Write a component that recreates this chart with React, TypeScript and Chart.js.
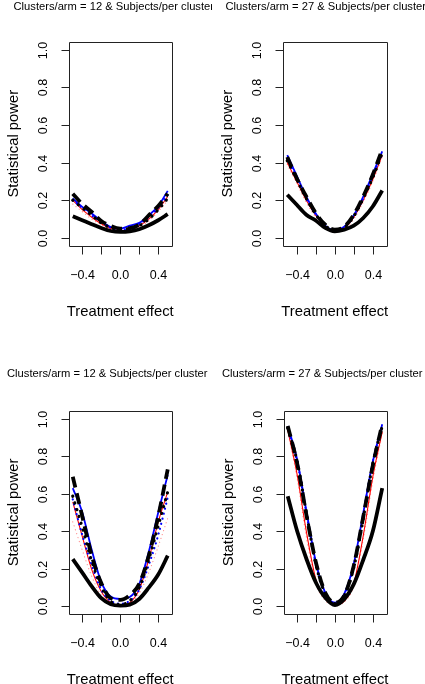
import React, { useEffect, useRef } from "react";
import { Chart, registerables } from "chart.js";

Chart.register(...registerables);

// ---------- data ----------
const effects = [-0.5, -0.4, -0.3, -0.2, -0.1, 0, 0.1, 0.2, 0.3, 0.4, 0.5];
const xTickValues = [-0.4, -0.2, 0, 0.2, 0.4];
const xTickLabels = ["\u22120.4", "", "0.0", "", "0.4"];
const yTickValues = [0, 0.2, 0.4, 0.6, 0.8, 1.0];
const yTickLabels = ["0.0", "0.2", "0.4", "0.6", "0.8", "1.0"];
const xTitle = "Treatment effect";
const yTitle = "Statistical power";
const titleTL = "Clusters/arm = 12 & Subjects/per cluster";
const titleTR = "Clusters/arm = 27 & Subjects/per cluster";
const titleBL = "Clusters/arm = 12 & Subjects/per cluster";
const titleBR = "Clusters/arm = 27 & Subjects/per cluster";

// top-left panel (12 clusters/arm)
const tlBlackSolid = [0.115, 0.094, 0.073, 0.053, 0.037, 0.032, 0.035, 0.046, 0.067, 0.094, 0.126];
const tlBlackDashed = [0.235, 0.18, 0.138, 0.09, 0.064, 0.05, 0.052, 0.07, 0.12, 0.17, 0.235];
const tlBlackDotted = [0.2, 0.16, 0.12, 0.08, 0.055, 0.045, 0.05, 0.065, 0.1, 0.15, 0.21];
const tlBlueSolid = [0.21, 0.165, 0.13, 0.09, 0.058, 0.05, 0.065, 0.08, 0.12, 0.17, 0.25];
const tlBlueDotted = [0.2, 0.16, 0.12, 0.085, 0.055, 0.045, 0.05, 0.075, 0.11, 0.16, 0.23];
const tlRedSolid = [0.2, 0.15, 0.11, 0.075, 0.05, 0.04, 0.045, 0.065, 0.1, 0.15, 0.22];
const tlPinkDotted = [0.18, 0.14, 0.1, 0.07, 0.045, 0.038, 0.042, 0.06, 0.09, 0.14, 0.2];

// top-right panel (27 clusters/arm)
const trBlackSolid = [0.229, 0.176, 0.123, 0.093, 0.053, 0.035, 0.044, 0.065, 0.106, 0.167, 0.252];
const trBlackDashed = [0.43, 0.317, 0.22, 0.132, 0.07, 0.044, 0.06, 0.123, 0.22, 0.335, 0.47];
const trBlackDotted = [0.41, 0.31, 0.21, 0.125, 0.065, 0.04, 0.055, 0.115, 0.21, 0.32, 0.45];
const trBlueSolid = [0.44, 0.33, 0.22, 0.13, 0.065, 0.04, 0.06, 0.12, 0.22, 0.34, 0.46];
const trBlueDotted = [0.42, 0.32, 0.21, 0.125, 0.06, 0.038, 0.055, 0.115, 0.21, 0.33, 0.45];
const trRedSolid = [0.4, 0.3, 0.2, 0.12, 0.06, 0.035, 0.05, 0.11, 0.2, 0.31, 0.44];
const trPinkDotted = [0.39, 0.29, 0.19, 0.11, 0.055, 0.032, 0.045, 0.1, 0.19, 0.3, 0.43];

// bottom-left panel (12 clusters/arm)
const blBlackSolid = [0.252, 0.18, 0.107, 0.044, 0.012, 0.005, 0.01, 0.04, 0.1, 0.17, 0.27];
const blBlackDashed = [0.69, 0.48, 0.27, 0.125, 0.045, 0.035, 0.06, 0.12, 0.27, 0.48, 0.73];
const blBlackDotted = [0.587, 0.42, 0.24, 0.107, 0.027, 0.01, 0.03, 0.1, 0.25, 0.43, 0.61];
const blBlueSolid = [0.63, 0.5, 0.3, 0.13, 0.053, 0.04, 0.05, 0.12, 0.29, 0.5, 0.7];
const blBlueDotted = [0.57, 0.38, 0.22, 0.09, 0.03, 0.015, 0.03, 0.09, 0.22, 0.38, 0.58];
const blRedSolid = [0.556, 0.373, 0.196, 0.08, 0.02, 0.005, 0.02, 0.09, 0.25, 0.45, 0.61];
const blPinkDotted = [0.45, 0.3, 0.16, 0.06, 0.015, 0.005, 0.015, 0.07, 0.18, 0.32, 0.47];

// bottom-right panel (27 clusters/arm)
const brBlackSolid = [0.587, 0.4, 0.25, 0.125, 0.045, 0.008, 0.04, 0.12, 0.25, 0.4, 0.63];
const brBlackDashed = [0.96, 0.76, 0.48, 0.23, 0.07, 0.02, 0.06, 0.22, 0.48, 0.75, 0.97];
const brBlackDotted = [0.95, 0.77, 0.49, 0.22, 0.065, 0.015, 0.06, 0.21, 0.47, 0.76, 0.96];
const brBlueSolid = [0.96, 0.78, 0.5, 0.23, 0.07, 0.02, 0.07, 0.23, 0.5, 0.77, 0.97];
const brBlueDotted = [0.95, 0.77, 0.49, 0.22, 0.06, 0.015, 0.06, 0.22, 0.49, 0.77, 0.96];
const brRedSolid = [0.94, 0.7, 0.39, 0.14, 0.04, 0.01, 0.03, 0.125, 0.38, 0.69, 0.93];
const brPinkDotted = [0.93, 0.68, 0.36, 0.12, 0.03, 0.008, 0.025, 0.11, 0.36, 0.67, 0.92];

// ---------- styles ----------
const seriesStyles = [
  { color: "#000000", width: 3.8, dash: [] as number[], cap: "butt" },
  { color: "#000000", width: 3.8, dash: [11, 6], cap: "butt" },
  { color: "#000000", width: 3.2, dash: [0.1, 7], cap: "round" },
  { color: "#0000ff", width: 1.8, dash: [] as number[], cap: "butt" },
  { color: "#0000ff", width: 2.2, dash: [0.1, 5], cap: "round" },
  { color: "#ff0000", width: 1.1, dash: [] as number[], cap: "butt" },
  { color: "#ff8c8c", width: 1.2, dash: [0.1, 4], cap: "round" },
];

const FONT = '"Liberation Sans", Arial, Helvetica, sans-serif';

type PanelSpec = {
  left: number;
  top: number;
  width: number;
  height: number;
  pad: { left: number; right: number; top: number; bottom: number };
  title: string;
  titleX: number;
  titleY: number;
  series: number[][];
};

const panels: PanelSpec[] = [
  {
    left: 0, top: 0, width: 212, height: 342,
    pad: { left: 68.5, right: 40, top: 42, bottom: 96.5 },
    title: titleTL, titleX: 13.5, titleY: 10,
    series: [tlBlackSolid, tlBlackDashed, tlBlackDotted, tlBlueSolid, tlBlueDotted, tlRedSolid, tlPinkDotted],
  },
  {
    left: 212, top: 0, width: 213, height: 342,
    pad: { left: 71, right: 38.5, top: 42, bottom: 96.5 },
    title: titleTR, titleX: 13.5, titleY: 10,
    series: [trBlackSolid, trBlackDashed, trBlackDotted, trBlueSolid, trBlueDotted, trRedSolid, trPinkDotted],
  },
  {
    left: 0, top: 342, width: 212, height: 342,
    pad: { left: 68.5, right: 40, top: 69, bottom: 70 },
    title: titleBL, titleX: 7, titleY: 35,
    series: [blBlackSolid, blBlackDashed, blBlackDotted, blBlueSolid, blBlueDotted, blRedSolid, blPinkDotted],
  },
  {
    left: 212, top: 342, width: 213, height: 342,
    pad: { left: 71.5, right: 38.5, top: 69, bottom: 70 },
    title: titleBR, titleX: 10, titleY: 35,
    series: [brBlackSolid, brBlackDashed, brBlackDotted, brBlueSolid, brBlueDotted, brRedSolid, brPinkDotted],
  },
];

function makeAxesPlugin(spec: PanelSpec) {
  return {
    id: "rAxes",
    afterDraw(chart: any) {
      const { ctx, chartArea: a, scales } = chart;
      const xs = scales.x;
      const ys = scales.y;
      ctx.save();
      ctx.strokeStyle = "#222";
      ctx.fillStyle = "#000";
      ctx.lineWidth = 1;
      const L = Math.round(a.left) + 0.5;
      const R = Math.round(a.right) + 0.5;
      const T = Math.round(a.top) + 0.5;
      const B = Math.round(a.bottom) + 0.5;
      ctx.beginPath();
      ctx.rect(L, T, R - L, B - T);
      ctx.stroke();

      // x axis ticks & labels
      ctx.font = `12.5px ${FONT}`;
      ctx.textAlign = "center";
      ctx.textBaseline = "alphabetic";
      xTickValues.forEach((v, i) => {
        const px = Math.round(xs.getPixelForValue(v)) + 0.5;
        ctx.beginPath();
        ctx.moveTo(px, B);
        ctx.lineTo(px, B + 8);
        ctx.stroke();
        if (xTickLabels[i]) ctx.fillText(xTickLabels[i], px, B + 32.5);
      });

      // y axis ticks & labels
      yTickValues.forEach((v, i) => {
        const py = Math.round(ys.getPixelForValue(v)) + 0.5;
        ctx.beginPath();
        ctx.moveTo(L, py);
        ctx.lineTo(L - 8, py);
        ctx.stroke();
        ctx.save();
        ctx.translate(L - 22.5, py);
        ctx.rotate(-Math.PI / 2);
        ctx.fillText(yTickLabels[i], 0, 0);
        ctx.restore();
      });

      // axis titles
      ctx.font = `14.8px ${FONT}`;
      ctx.fillText(xTitle, (a.left + a.right) / 2, B + 69.5);
      ctx.save();
      ctx.translate(L - 51.5, (a.top + a.bottom) / 2);
      ctx.rotate(-Math.PI / 2);
      ctx.fillText(yTitle, 0, 0);
      ctx.restore();

      // main title
      ctx.font = `11.2px ${FONT}`;
      ctx.textAlign = "left";
      ctx.fillText(spec.title, spec.titleX, spec.titleY);
      ctx.restore();
    },
  };
}

function Panel({ spec }: { spec: PanelSpec }) {
  const ref = useRef<HTMLCanvasElement>(null);
  useEffect(() => {
    const datasets = spec.series.map((vals, si) => {
      const st = seriesStyles[si];
      return {
        data: effects.map((e, i) => ({ x: e, y: vals[i] })),
        borderColor: st.color,
        backgroundColor: st.color,
        borderWidth: st.width,
        borderDash: st.dash,
        borderCapStyle: st.cap,
        borderJoinStyle: "round",
        pointRadius: 0,
        fill: false,
        cubicInterpolationMode: "monotone",
      };
    });
    const chart = new Chart(ref.current as HTMLCanvasElement, {
      type: "line",
      data: { datasets } as any,
      options: {
        animation: false,
        responsive: false,
        devicePixelRatio: 1,
        layout: { padding: spec.pad },
        plugins: { legend: { display: false }, tooltip: { enabled: false }, title: { display: false } },
        events: [],
        scales: {
          x: { type: "linear", min: -0.545, max: 0.545, display: false },
          y: { type: "linear", min: -0.04, max: 1.04, display: false },
        },
      } as any,
      plugins: [makeAxesPlugin(spec)],
    });
    return () => chart.destroy();
  }, [spec]);
  return (
    <canvas
      ref={ref}
      width={spec.width}
      height={spec.height}
      style={{ position: "absolute", left: spec.left, top: spec.top, display: "block" }}
    />
  );
}

export default function App() {
  return (
    <div
      style={{
        position: "absolute",
        left: 0,
        top: 0,
        width: 425,
        height: 684,
        background: "#ffffff",
        overflow: "hidden",
      }}
    >
      {panels.map((p, i) => (
        <Panel key={i} spec={p} />
      ))}
    </div>
  );
}
